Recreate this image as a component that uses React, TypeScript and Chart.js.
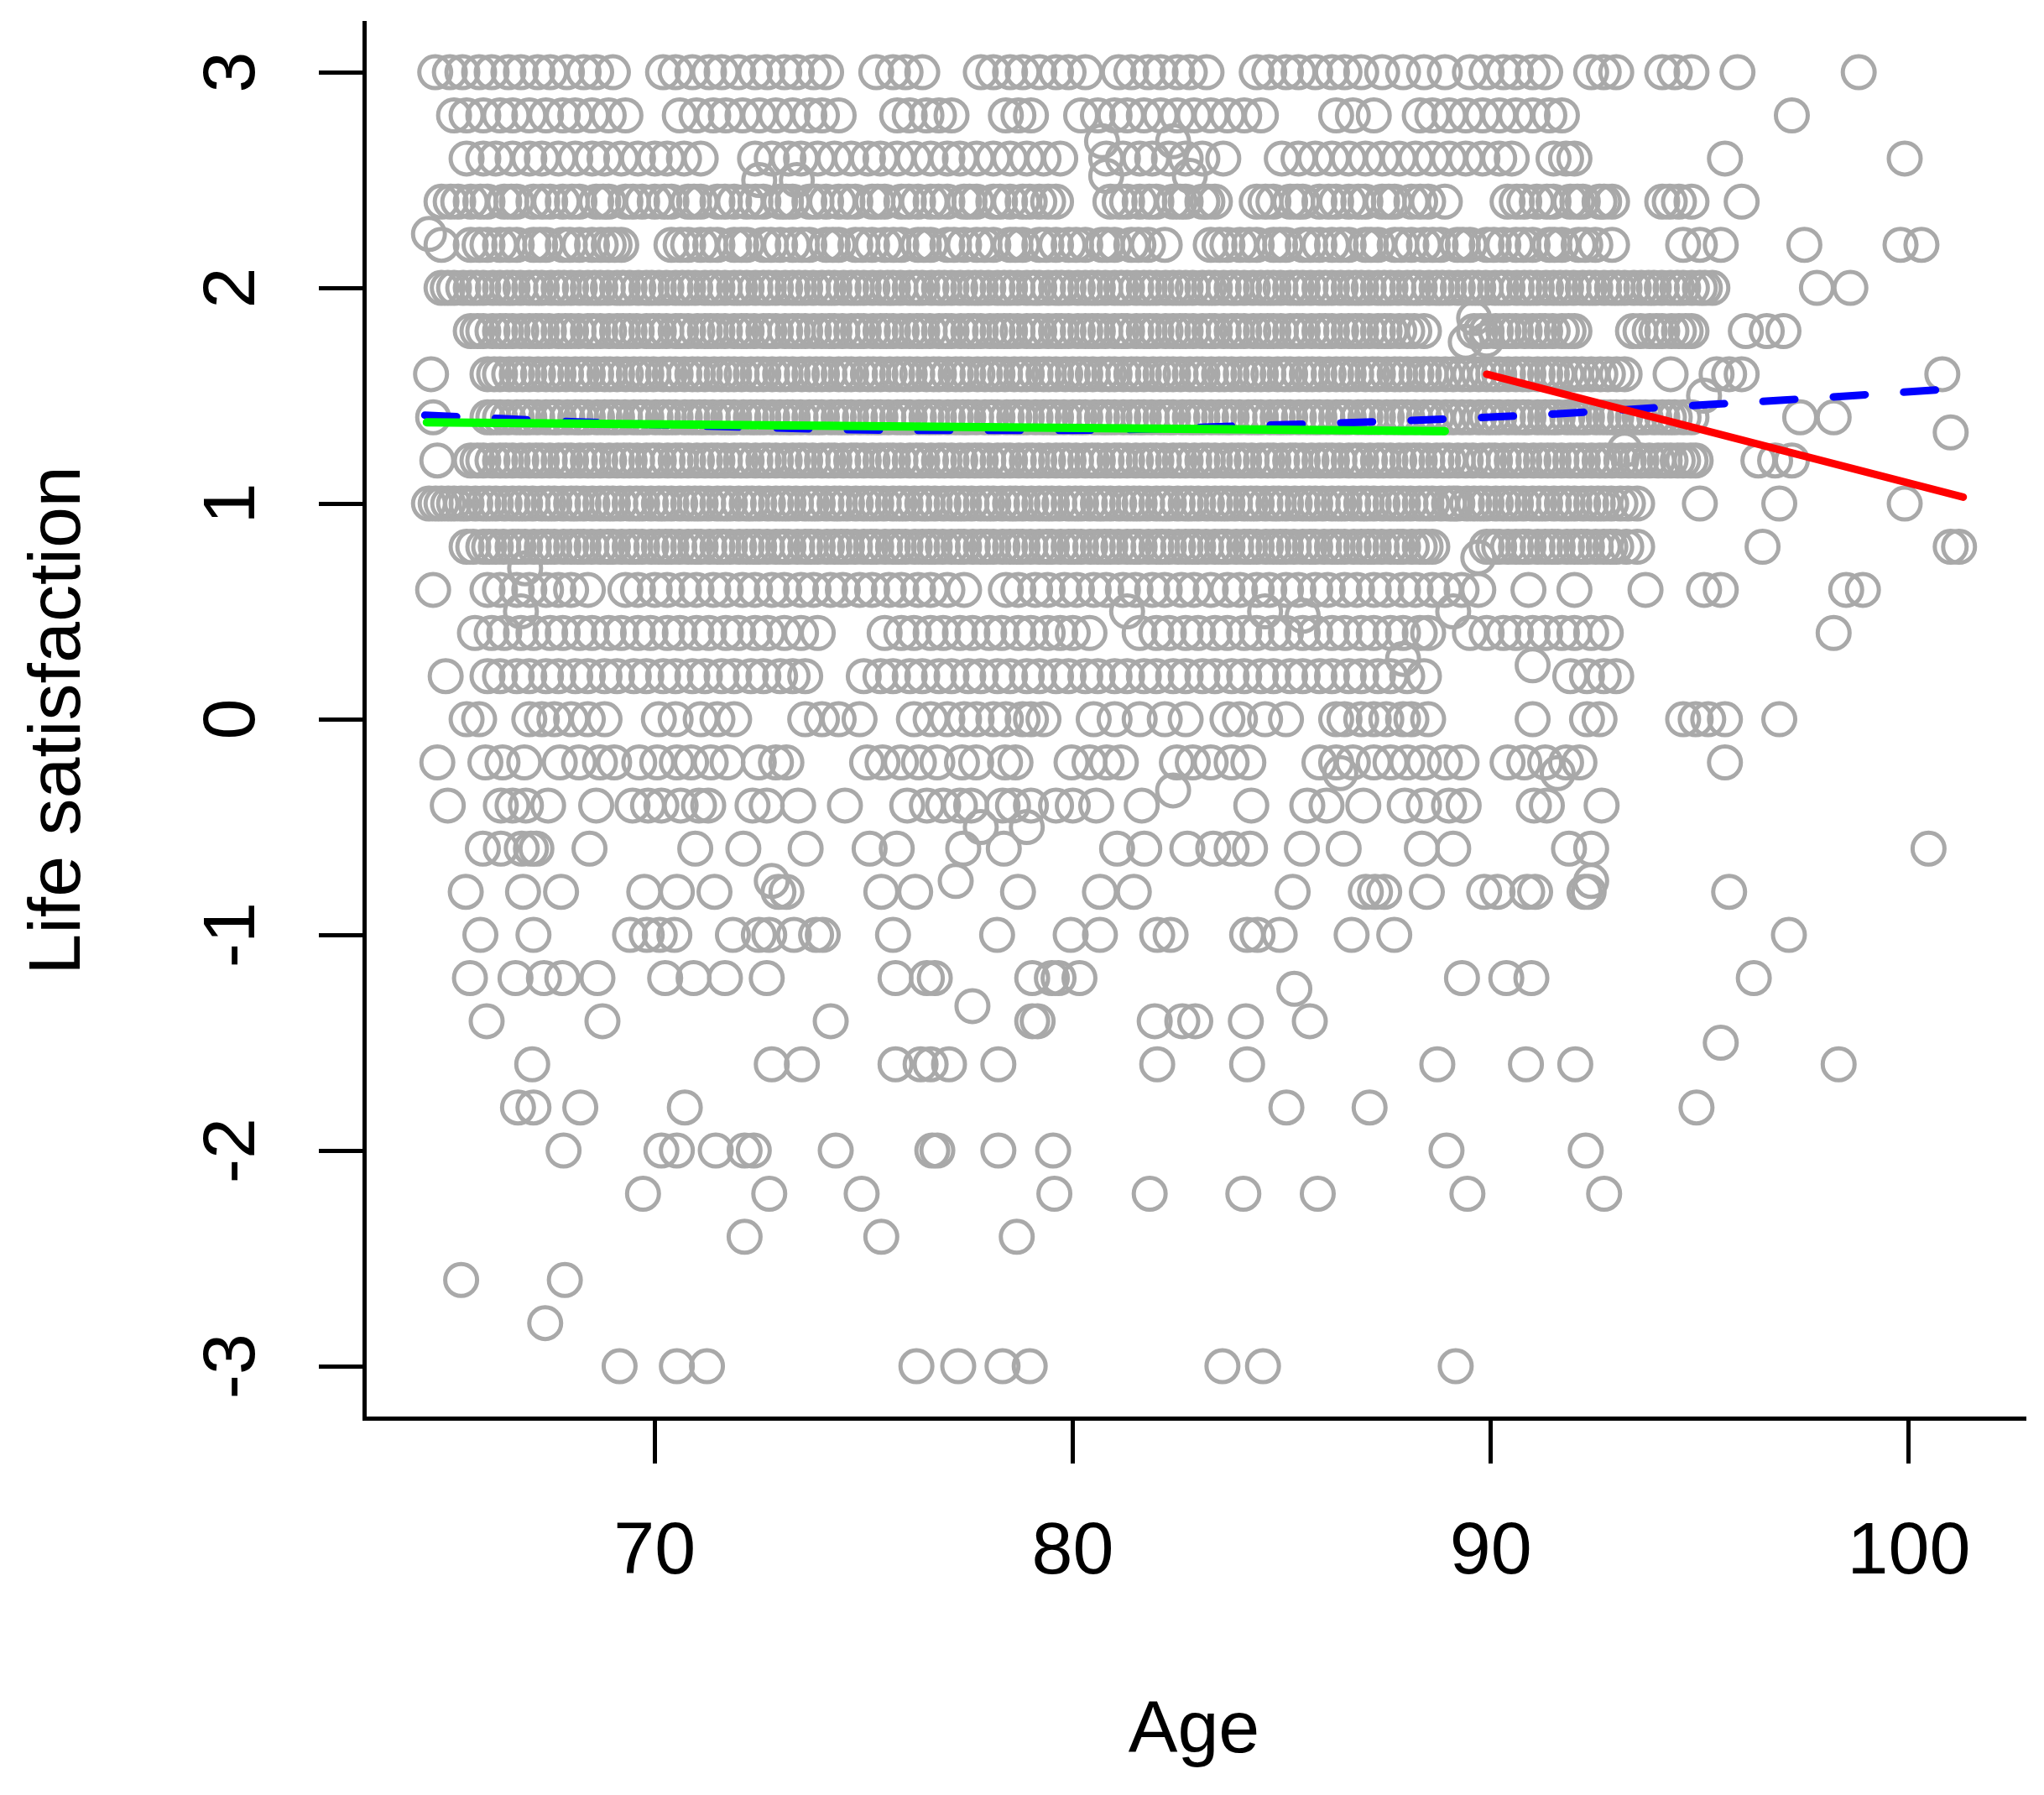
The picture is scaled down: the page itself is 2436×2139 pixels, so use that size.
import React, { useEffect, useRef } from "react";
import { Chart, registerables } from "chart.js";

Chart.register(...registerables);

// tick positions
const ageTicks = [70, 80, 90, 100];
const satisfactionTicks = [-3, -2, -1, 0, 1, 2, 3];

// ages observed at each life-satisfaction level
const lvl3_0 = [64.75, 65.1, 65.4, 65.8, 66.1, 66.5, 66.8, 67.2, 67.5, 67.9, 68.3, 68.6, 69.0, 70.2, 70.5, 70.9, 71.3, 71.6, 72.0, 72.4, 72.7, 73.1, 73.4, 73.8, 74.1, 75.3, 75.7, 76.0, 76.4, 77.8, 78.1, 78.5, 78.8, 79.2, 79.6, 79.9, 80.3, 81.1, 81.4, 81.8, 82.1, 82.5, 82.8, 83.2, 84.4, 84.7, 85.1, 85.4, 85.8, 86.2, 86.5, 86.9, 87.4, 87.9, 88.4, 88.9, 89.5, 89.9, 90.3, 90.6, 91.0, 91.3, 92.4, 92.7, 93.0, 94.1, 94.4, 94.8, 95.9, 98.8];
const lvl2_8 = [65.2, 65.5, 65.9, 66.3, 66.6, 67.0, 67.4, 67.8, 68.1, 68.5, 68.9, 69.3, 70.6, 71.0, 71.4, 71.7, 72.1, 72.5, 72.9, 73.3, 73.7, 74.0, 74.4, 75.8, 76.1, 76.5, 76.8, 77.1, 78.4, 78.7, 79.0, 80.2, 80.6, 81.0, 81.3, 81.7, 82.1, 82.5, 82.9, 83.3, 83.7, 84.1, 84.5, 86.3, 86.7, 87.2, 88.3, 88.6, 89.0, 89.4, 89.8, 90.2, 90.6, 91.0, 91.4, 91.7, 97.2];
const lvl2_6 = [65.5, 65.9, 66.2, 66.6, 67.0, 67.3, 67.7, 68.1, 68.5, 68.8, 69.2, 69.6, 70.0, 70.3, 70.7, 71.1, 72.4, 72.8, 73.2, 73.5, 73.9, 74.3, 74.7, 75.1, 75.4, 75.8, 76.2, 76.6, 77.0, 77.3, 77.7, 78.1, 78.5, 78.9, 79.3, 79.7, 80.8, 81.2, 81.6, 81.9, 82.3, 82.7, 83.1, 83.6, 85.0, 85.4, 85.8, 86.2, 86.6, 87.0, 87.4, 87.8, 88.2, 88.6, 89.0, 89.4, 89.8, 90.2, 90.5, 91.5, 91.8, 92.0, 95.6, 99.9];
const lvl2_4 = [64.9, 65.3, 65.6, 66.0, 66.4, 66.7, 67.1, 67.5, 67.8, 68.2, 68.6, 68.9, 69.3, 69.7, 70.0, 70.4, 70.8, 71.1, 71.5, 71.9, 72.2, 72.6, 73.0, 73.3, 73.7, 74.1, 74.4, 74.8, 75.2, 75.5, 75.9, 76.3, 76.6, 77.0, 77.4, 77.7, 78.1, 78.5, 78.8, 79.2, 79.6, 80.9, 81.3, 81.6, 82.0, 82.4, 82.7, 83.1, 83.4, 84.4, 84.8, 85.2, 85.5, 85.9, 86.3, 86.6, 87.0, 87.4, 87.7, 88.1, 88.5, 88.9, 90.4, 90.8, 91.1, 91.5, 91.9, 92.2, 92.6, 92.9, 94.1, 94.5, 94.8, 96.0];
const lvl2_4b = [65.12, 65.83, 66.57, 67.31, 68.02, 68.77, 69.48, 70.23, 70.94, 71.68, 72.41, 73.14, 73.87, 74.61, 75.33, 76.08, 76.79, 77.53, 78.26, 78.97, 79.41, 81.12, 81.83, 82.56, 83.22, 84.61, 85.37, 86.12, 86.83, 87.56, 88.31, 90.62, 91.34, 92.07, 92.71, 94.28];
const lvl2_2 = [64.9, 65.6, 66.0, 66.3, 66.7, 67.1, 67.4, 67.8, 68.2, 68.5, 68.9, 69.2, 70.4, 70.8, 71.1, 71.5, 71.9, 72.2, 72.6, 73.0, 73.3, 73.7, 74.1, 74.4, 74.8, 75.2, 75.5, 75.9, 76.3, 76.6, 77.0, 77.4, 77.7, 78.1, 78.5, 78.8, 79.2, 79.6, 79.9, 80.3, 80.7, 81.0, 81.4, 81.8, 82.2, 83.3, 83.7, 84.0, 84.4, 84.8, 85.1, 85.5, 85.9, 86.2, 86.6, 87.0, 87.3, 87.7, 88.1, 88.4, 88.8, 89.2, 89.5, 89.9, 90.3, 90.6, 91.0, 91.4, 91.7, 92.1, 92.5, 92.9, 94.6, 95.0, 95.5, 97.5, 99.8, 100.3];
const lvl2_2b = [65.81, 66.52, 67.26, 67.97, 68.71, 69.04, 70.62, 71.33, 72.07, 72.78, 73.52, 74.26, 74.97, 75.71, 76.44, 77.16, 77.89, 78.63, 79.37, 80.08, 80.82, 81.57, 83.51, 84.22, 84.96, 85.68, 86.41, 87.13, 87.86, 88.61, 89.33, 90.07, 90.78, 91.52, 92.26];
const lvl2_0 = [64.9, 65.2, 65.6, 65.9, 66.3, 66.6, 67.0, 67.3, 67.7, 68.0, 68.4, 68.7, 69.1, 69.4, 69.8, 70.1, 70.5, 70.8, 71.2, 71.5, 71.9, 72.2, 72.6, 72.9, 73.3, 73.6, 74.0, 74.3, 74.7, 75.0, 75.4, 75.7, 76.1, 76.4, 76.8, 77.1, 77.5, 77.8, 78.2, 78.5, 78.9, 79.2, 79.6, 79.9, 80.3, 80.6, 81.0, 81.3, 81.7, 82.0, 82.4, 82.7, 83.1, 83.4, 83.8, 84.1, 84.5, 84.8, 85.2, 85.5, 85.9, 86.2, 86.6, 86.9, 87.3, 87.6, 88.0, 88.3, 88.7, 89.0, 89.4, 89.7, 90.1, 90.4, 90.8, 91.1, 91.5, 91.8, 92.2, 92.5, 92.9, 93.2, 93.6, 93.9, 94.3, 94.6, 95.0, 95.3, 97.8, 98.6];
const lvl2_0b = [65.05, 65.42, 65.74, 66.13, 66.47, 66.79, 67.16, 67.52, 67.83, 68.21, 68.56, 68.88, 69.24, 69.61, 69.93, 70.28, 70.66, 70.97, 71.36, 71.68, 72.04, 72.41, 72.73, 73.12, 73.45, 73.79, 74.16, 74.52, 74.84, 75.21, 75.57, 75.88, 76.26, 76.62, 76.93, 77.31, 77.66, 77.98, 78.36, 78.68, 79.07, 79.41, 79.73, 80.12, 80.46, 80.78, 81.16, 81.52, 81.84, 82.22, 82.55, 82.87, 83.26, 83.61, 83.92, 84.31, 84.66, 84.97, 85.36, 85.69, 86.04, 86.41, 86.76, 87.08, 87.45, 87.79, 88.16, 88.52, 88.84, 89.21, 89.56, 89.88, 90.26, 90.62, 90.94, 91.32, 91.66, 91.98, 92.36, 92.71, 93.04, 93.42, 93.77, 94.09, 94.46, 94.81, 95.12];
const lvl1_8 = [65.6, 65.9, 66.3, 66.6, 67.0, 67.3, 67.7, 68.0, 68.4, 68.7, 69.1, 69.4, 69.8, 70.1, 70.5, 70.8, 71.2, 71.5, 71.9, 72.2, 72.6, 72.9, 73.3, 73.6, 74.0, 74.3, 74.7, 75.0, 75.4, 75.7, 76.1, 76.4, 76.8, 77.1, 77.5, 77.8, 78.2, 78.5, 78.9, 79.2, 79.6, 79.9, 80.3, 80.6, 81.0, 81.3, 81.7, 82.0, 82.4, 82.7, 83.1, 83.4, 83.8, 84.1, 84.5, 84.8, 85.2, 85.5, 85.9, 86.2, 86.6, 86.9, 87.3, 87.6, 88.0, 88.4, 89.6, 89.9, 90.3, 90.6, 91.0, 91.3, 91.7, 92.0, 93.4, 93.8, 94.1, 94.5, 94.8, 96.1, 96.6, 97.0];
const lvl1_8b = [65.76, 66.12, 66.44, 66.81, 67.16, 67.47, 67.86, 68.18, 68.53, 68.91, 69.24, 69.57, 69.96, 70.28, 70.63, 71.02, 71.34, 71.68, 72.07, 72.38, 72.74, 73.12, 73.43, 73.81, 74.17, 74.49, 74.86, 75.22, 75.54, 75.91, 76.27, 76.58, 76.96, 77.32, 77.64, 78.02, 78.36, 78.68, 79.07, 79.41, 79.73, 80.12, 80.46, 80.78, 81.17, 81.52, 81.84, 82.22, 82.56, 82.88, 83.27, 83.61, 83.93, 84.32, 84.66, 84.98, 85.36, 85.71, 86.04, 86.42, 86.76, 87.09, 87.46, 87.81, 88.17, 89.76, 90.12, 90.44, 90.81, 91.17, 91.48, 91.86, 93.58, 93.96, 94.32, 94.66];
const lvl1_6 = [64.65, 66.0, 66.3, 66.7, 67.0, 67.4, 67.7, 68.1, 68.4, 68.8, 69.1, 69.5, 69.8, 70.2, 70.5, 70.9, 71.2, 71.6, 71.9, 72.3, 72.6, 73.0, 73.3, 73.7, 74.0, 74.4, 74.7, 75.1, 75.4, 75.8, 76.1, 76.5, 76.8, 77.2, 77.5, 77.9, 78.2, 78.6, 78.9, 79.3, 79.6, 80.0, 80.3, 80.7, 81.0, 81.4, 81.7, 82.1, 82.4, 82.8, 83.1, 83.5, 83.8, 84.2, 84.5, 84.9, 85.2, 85.6, 85.9, 86.3, 86.6, 87.0, 87.3, 87.7, 88.0, 88.4, 88.7, 89.1, 89.5, 89.9, 90.2, 90.6, 90.9, 91.3, 91.6, 92.0, 92.4, 92.8, 93.2, 94.3, 95.4, 95.7, 96.0, 100.8];
const lvl1_6b = [66.16, 66.52, 66.84, 67.21, 67.56, 67.88, 68.26, 68.6, 68.93, 69.31, 69.66, 69.97, 70.36, 70.71, 71.03, 71.42, 71.76, 72.08, 72.46, 72.81, 73.13, 73.52, 73.86, 74.18, 74.57, 74.91, 75.23, 75.62, 75.96, 76.28, 76.67, 77.01, 77.33, 77.72, 78.06, 78.38, 78.77, 79.11, 79.43, 79.82, 80.16, 80.48, 80.87, 81.21, 81.53, 81.92, 82.26, 82.58, 82.97, 83.31, 83.63, 84.02, 84.36, 84.68, 85.07, 85.41, 85.73, 86.12, 86.46, 86.78, 87.17, 87.51, 87.83, 88.22, 88.56, 88.91, 89.32, 89.71, 90.06, 90.41, 90.76, 91.12, 91.46, 91.81, 92.18, 92.62, 93.01];
const lvl1_4 = [64.7, 66.0, 66.3, 66.7, 67.0, 67.4, 67.7, 68.1, 68.4, 68.8, 69.1, 69.5, 69.8, 70.2, 70.5, 70.9, 71.2, 71.6, 71.9, 72.3, 72.6, 73.0, 73.3, 73.7, 74.0, 74.4, 74.7, 75.1, 75.4, 75.8, 76.1, 76.5, 76.8, 77.2, 77.5, 77.9, 78.2, 78.6, 78.9, 79.3, 79.6, 80.0, 80.3, 80.7, 81.0, 81.4, 81.7, 82.1, 82.4, 82.8, 83.1, 83.5, 83.8, 84.2, 84.5, 84.9, 85.2, 85.6, 85.9, 86.3, 86.6, 87.0, 87.3, 87.7, 88.0, 88.4, 88.7, 89.1, 89.5, 89.9, 90.2, 90.6, 90.9, 91.3, 91.6, 92.0, 92.3, 92.7, 93.0, 93.4, 93.7, 94.1, 94.4, 94.8, 97.4, 98.2];
const lvl1_4b = [66.14, 66.49, 66.86, 67.19, 67.57, 67.91, 68.24, 68.62, 68.97, 69.29, 69.66, 70.02, 70.34, 70.72, 71.07, 71.39, 71.76, 72.12, 72.44, 72.81, 73.17, 73.49, 73.86, 74.22, 74.54, 74.91, 75.27, 75.59, 75.96, 76.32, 76.64, 77.01, 77.37, 77.69, 78.06, 78.42, 78.74, 79.11, 79.47, 79.79, 80.16, 80.52, 80.84, 81.21, 81.57, 81.89, 82.26, 82.62, 82.94, 83.31, 83.67, 83.99, 84.36, 84.72, 85.04, 85.41, 85.77, 86.09, 86.46, 86.82, 87.14, 87.51, 87.87, 88.19, 88.56, 88.92, 89.31, 89.72, 90.04, 90.41, 90.77, 91.12, 91.46, 91.83, 92.16, 92.52, 92.86, 93.21, 93.56, 93.91, 94.26, 94.61];
const lvl1_2 = [64.8, 65.6, 65.9, 66.3, 66.6, 67.0, 67.3, 67.7, 68.0, 68.4, 68.7, 69.1, 69.4, 69.8, 70.1, 70.5, 70.8, 71.2, 71.5, 71.9, 72.2, 72.6, 72.9, 73.3, 73.6, 74.0, 74.3, 74.7, 75.0, 75.4, 75.7, 76.1, 76.4, 76.8, 77.1, 77.5, 77.8, 78.2, 78.5, 78.9, 79.2, 79.6, 79.9, 80.3, 80.6, 81.0, 81.3, 81.7, 82.0, 82.4, 82.7, 83.1, 83.4, 83.8, 84.1, 84.5, 84.8, 85.2, 85.5, 85.9, 86.2, 86.6, 86.9, 87.3, 87.6, 88.0, 88.3, 88.7, 89.0, 89.4, 89.8, 90.1, 90.5, 90.8, 91.2, 91.5, 91.9, 92.2, 92.6, 92.9, 93.3, 93.6, 94.0, 94.3, 94.6, 94.9, 96.4, 96.8, 97.2];
const lvl1_2b = [65.76, 66.12, 66.44, 66.81, 67.16, 67.49, 67.86, 68.21, 68.53, 68.91, 69.26, 69.58, 69.96, 70.31, 70.63, 71.01, 71.36, 71.68, 72.06, 72.41, 72.73, 73.11, 73.46, 73.78, 74.16, 74.51, 74.83, 75.21, 75.56, 75.88, 76.26, 76.61, 76.93, 77.31, 77.66, 77.98, 78.36, 78.71, 79.03, 79.41, 79.76, 80.08, 80.46, 80.81, 81.13, 81.51, 81.86, 82.18, 82.56, 82.91, 83.23, 83.61, 83.96, 84.28, 84.66, 85.01, 85.33, 85.71, 86.06, 86.38, 86.76, 87.11, 87.43, 87.81, 88.16, 88.48, 88.86, 89.21, 89.57, 89.96, 90.31, 90.64, 91.02, 91.36, 91.69, 92.06, 92.41, 92.74, 93.12, 93.46, 93.79, 94.16, 94.47, 94.78];
const lvl1_0 = [64.6, 64.9, 65.2, 65.5, 65.9, 66.2, 66.6, 66.9, 67.3, 67.6, 68.0, 68.3, 68.7, 69.0, 69.4, 69.7, 70.1, 70.4, 70.8, 71.1, 71.5, 71.8, 72.2, 72.5, 72.9, 73.2, 73.6, 73.9, 74.3, 74.6, 75.0, 75.3, 75.7, 76.0, 76.4, 76.7, 77.1, 77.4, 77.8, 78.1, 78.5, 78.8, 79.2, 79.5, 79.9, 80.2, 80.6, 80.9, 81.3, 81.6, 82.0, 82.3, 82.7, 83.0, 83.4, 83.7, 84.1, 84.4, 84.8, 85.1, 85.5, 85.8, 86.2, 86.5, 86.9, 87.2, 87.6, 87.9, 88.3, 88.6, 89.0, 89.2, 89.6, 89.9, 90.3, 90.6, 91.0, 91.3, 91.7, 92.0, 92.4, 92.7, 93.1, 93.5, 95.0, 96.9, 99.9];
const lvl1_0b = [64.76, 65.06, 65.37, 65.71, 66.04, 66.41, 66.76, 67.08, 67.46, 67.81, 68.13, 68.51, 68.86, 69.18, 69.56, 69.91, 70.23, 70.61, 70.96, 71.28, 71.66, 72.01, 72.33, 72.71, 73.06, 73.38, 73.76, 74.11, 74.43, 74.81, 75.16, 75.48, 75.86, 76.21, 76.53, 76.91, 77.26, 77.58, 77.96, 78.31, 78.63, 79.01, 79.36, 79.68, 80.06, 80.41, 80.73, 81.11, 81.46, 81.78, 82.16, 82.51, 82.83, 83.21, 83.56, 83.88, 84.26, 84.61, 84.93, 85.31, 85.66, 85.98, 86.36, 86.71, 87.03, 87.41, 87.76, 88.08, 88.46, 88.81, 89.11, 89.43, 89.76, 90.12, 90.46, 90.78, 91.16, 91.51, 91.84, 92.21, 92.56, 92.88, 93.28];
const lvl0_8 = [65.5, 65.9, 66.2, 66.6, 66.9, 67.3, 67.6, 68.0, 68.3, 68.7, 69.0, 69.4, 69.7, 70.1, 70.4, 70.8, 71.1, 71.5, 71.8, 72.2, 72.5, 72.9, 73.2, 73.6, 73.9, 74.3, 74.6, 75.0, 75.3, 75.7, 76.0, 76.4, 76.7, 77.1, 77.4, 77.8, 78.1, 78.5, 78.8, 79.2, 79.5, 79.9, 80.2, 80.6, 80.9, 81.3, 81.6, 82.0, 82.3, 82.7, 83.0, 83.4, 83.7, 84.1, 84.4, 84.8, 85.1, 85.5, 85.8, 86.2, 86.5, 86.9, 87.2, 87.6, 87.9, 88.3, 88.6, 89.9, 90.2, 90.6, 90.9, 91.3, 91.6, 92.0, 92.3, 92.7, 93.0, 93.5, 96.5, 101.0, 101.2];
const lvl0_8b = [65.66, 66.04, 66.38, 66.74, 67.11, 67.44, 67.82, 68.16, 68.49, 68.87, 69.21, 69.54, 69.92, 70.26, 70.59, 70.97, 71.31, 71.64, 72.02, 72.36, 72.69, 73.07, 73.41, 73.74, 74.12, 74.46, 74.79, 75.17, 75.51, 75.84, 76.22, 76.56, 76.89, 77.27, 77.61, 77.94, 78.32, 78.66, 78.99, 79.37, 79.71, 80.04, 80.42, 80.76, 81.09, 81.47, 81.81, 82.14, 82.52, 82.86, 83.19, 83.57, 83.91, 84.24, 84.62, 84.96, 85.29, 85.67, 86.01, 86.34, 86.72, 87.06, 87.39, 87.77, 88.11, 88.44, 90.06, 90.41, 90.77, 91.12, 91.46, 91.82, 92.16, 92.51, 92.86, 93.24];
const lvl0_6 = [64.7, 66.0, 66.3, 66.7, 67.0, 67.4, 67.7, 68.0, 68.4, 69.3, 69.6, 70.0, 70.3, 70.7, 71.0, 71.4, 71.7, 72.1, 72.4, 72.8, 73.1, 73.5, 73.8, 74.2, 74.5, 74.9, 75.2, 75.6, 75.9, 76.3, 76.6, 77.0, 77.4, 78.4, 78.7, 79.1, 79.4, 79.8, 80.1, 80.5, 80.8, 81.2, 81.5, 81.9, 82.2, 82.6, 82.9, 83.3, 83.7, 84.0, 84.4, 84.7, 85.1, 85.4, 85.8, 86.1, 86.5, 86.8, 87.2, 87.5, 87.9, 88.2, 88.6, 88.9, 89.3, 89.7, 90.9, 92.0, 93.7, 95.1, 95.5, 98.5, 98.9];
const lvl0_4 = [65.7, 66.1, 66.4, 66.8, 67.1, 67.5, 67.8, 68.2, 68.5, 68.9, 69.2, 69.6, 69.9, 70.3, 70.6, 71.0, 71.3, 71.7, 72.0, 72.4, 72.7, 73.1, 73.5, 73.9, 75.5, 75.9, 76.2, 76.6, 76.9, 77.3, 77.6, 78.0, 78.3, 78.7, 79.0, 79.4, 79.7, 80.0, 80.4, 81.6, 82.0, 82.3, 82.7, 83.0, 83.4, 83.7, 84.1, 84.4, 84.8, 85.1, 85.5, 85.8, 86.2, 86.5, 86.9, 87.2, 87.6, 87.9, 88.3, 88.5, 89.5, 89.9, 90.3, 90.6, 91.0, 91.3, 91.7, 92.0, 92.4, 92.75, 98.2];
const lvl0_2 = [65.0, 66.0, 66.3, 66.7, 67.0, 67.4, 67.7, 68.1, 68.4, 68.8, 69.1, 69.5, 69.8, 70.2, 70.5, 70.9, 71.2, 71.6, 71.9, 72.3, 72.6, 73.0, 73.3, 73.6, 75.0, 75.4, 75.7, 76.1, 76.4, 76.8, 77.1, 77.5, 77.8, 78.2, 78.5, 78.9, 79.2, 79.6, 79.9, 80.3, 80.6, 81.0, 81.3, 81.7, 82.0, 82.4, 82.7, 83.1, 83.4, 83.8, 84.1, 84.5, 84.8, 85.2, 85.5, 85.9, 86.2, 86.6, 86.9, 87.3, 87.6, 88.0, 88.4, 91.9, 92.3, 92.7, 93.0];
const lvl0_0 = [65.5, 65.8, 67.0, 67.3, 67.6, 68.0, 68.4, 68.8, 70.1, 70.5, 71.1, 71.5, 71.9, 73.6, 74.0, 74.4, 74.9, 76.2, 76.6, 77.0, 77.4, 77.7, 78.1, 78.4, 78.8, 79.0, 79.3, 80.5, 81.0, 81.6, 82.2, 82.7, 83.7, 84.0, 84.6, 85.1, 86.3, 86.5, 86.9, 87.2, 87.5, 87.9, 88.1, 88.5, 91.0, 92.3, 92.6, 94.6, 94.9, 95.2, 95.6, 96.9];
const lvlM0_2 = [64.8, 65.95, 66.36, 66.88, 67.73, 68.19, 68.69, 69.03, 69.63, 70.06, 70.53, 70.87, 71.34, 71.74, 72.49, 72.9, 73.15, 75.08, 75.45, 75.89, 76.32, 76.76, 77.35, 77.69, 78.38, 78.63, 79.97, 80.4, 80.81, 81.15, 82.49, 82.87, 83.3, 83.8, 84.2, 85.9, 86.3, 86.7, 87.2, 87.6, 88.0, 88.4, 88.9, 89.3, 90.4, 90.8, 91.3, 91.8, 92.12, 95.6];
const lvlM0_4 = [65.05, 66.32, 66.6, 66.92, 67.45, 68.6, 69.47, 69.84, 70.16, 70.62, 71.06, 71.28, 72.34, 72.68, 73.43, 74.55, 76.04, 76.51, 76.9, 77.3, 77.57, 78.32, 78.57, 79.0, 79.6, 80.0, 80.56, 81.65, 84.27, 85.61, 86.07, 86.95, 87.94, 88.4, 89.0, 89.35, 91.03, 91.34, 92.65];
const lvlM0_6 = [65.89, 66.32, 66.82, 67.04, 67.17, 68.44, 70.97, 72.12, 73.61, 75.14, 75.79, 77.38, 78.35, 81.06, 81.71, 82.74, 83.36, 83.8, 84.24, 85.48, 86.48, 88.35, 89.1, 91.87, 92.4, 100.47];
const lvlM0_8 = [65.48, 66.85, 67.76, 69.75, 70.53, 71.43, 72.96, 73.15, 75.42, 76.23, 78.69, 80.65, 81.46, 85.26, 87.01, 87.23, 87.45, 88.47, 89.84, 90.16, 90.87, 91.06, 92.24, 92.34, 95.7];
const lvlM1_0 = [65.83, 67.1, 69.41, 69.81, 70.12, 70.47, 71.87, 72.49, 72.74, 73.33, 73.86, 74.02, 75.7, 78.19, 79.95, 80.65, 82.02, 82.34, 84.17, 84.42, 84.95, 86.67, 87.69, 97.13];
const lvlM1_2 = [65.58, 66.67, 67.35, 67.79, 68.63, 70.25, 70.93, 71.68, 72.68, 75.76, 76.51, 76.7, 79.03, 79.5, 79.66, 80.16, 89.31, 90.37, 90.97, 96.29];
const lvlM1_4 = [65.98, 68.75, 74.21, 79.03, 79.16, 81.96, 82.62, 82.93, 84.14, 85.67];
const lvlM1_6 = [67.07, 72.8, 73.52, 75.76, 76.36, 76.6, 77.04, 78.22, 82.02, 84.17, 88.72, 90.84, 92.02, 98.32];
const lvlM1_8 = [66.73, 67.1, 68.22, 70.72, 85.11, 87.1, 94.92];
const lvlM2_0 = [67.82, 70.16, 70.53, 71.46, 72.15, 72.37, 74.33, 76.64, 76.76, 78.22, 79.53, 88.94, 92.27];
const lvlM2_2 = [69.72, 72.74, 74.95, 79.56, 81.84, 84.08, 85.86, 89.44, 92.71];
const lvlM2_4 = [72.15, 75.42, 78.66];
const lvlM2_6 = [65.37, 67.85];
const lvlM2_8 = [67.38];
const lvlM3_0 = [69.16, 70.53, 71.25, 76.26, 77.26, 78.32, 78.97, 83.58, 84.55, 89.16];

const levelRows: [number, number[]][] = [
  [3.0, lvl3_0], [2.8, lvl2_8], [2.6, lvl2_6], [2.4, lvl2_4], [2.4, lvl2_4b],
  [2.2, lvl2_2], [2.2, lvl2_2b], [2.0, lvl2_0], [2.0, lvl2_0b], [1.8, lvl1_8],
  [1.8, lvl1_8b], [1.6, lvl1_6], [1.6, lvl1_6b], [1.4, lvl1_4], [1.4, lvl1_4b],
  [1.2, lvl1_2], [1.2, lvl1_2b], [1.0, lvl1_0], [1.0, lvl1_0b], [0.8, lvl0_8],
  [0.8, lvl0_8b], [0.6, lvl0_6], [0.4, lvl0_4], [0.2, lvl0_2], [0.0, lvl0_0],
  [-0.2, lvlM0_2], [-0.4, lvlM0_4], [-0.6, lvlM0_6], [-0.8, lvlM0_8], [-1.0, lvlM1_0],
  [-1.2, lvlM1_2], [-1.4, lvlM1_4], [-1.6, lvlM1_6], [-1.8, lvlM1_8], [-2.0, lvlM2_0],
  [-2.2, lvlM2_2], [-2.4, lvlM2_4], [-2.6, lvlM2_6], [-2.8, lvlM2_8], [-3.0, lvlM3_0],
];

// respondents with in-between scores: [age, satisfaction]
const offGridPoints: [number, number][] = [
  [72.5, 2.5], [73.4, 2.5], [80.7, 2.68], [82.4, 2.68], [80.8, 2.52], [82.8, 2.52],
  [64.6, 2.25], [89.6, 1.86], [89.4, 1.75], [89.9, 1.76], [95.1, 1.5], [101.0, 1.33],
  [93.2, 1.25], [66.9, 0.7], [66.8, 0.5], [87.9, 0.28], [81.3, 0.5], [84.6, 0.5],
  [85.5, 0.48], [89.1, 0.5], [89.7, 0.75], [91.0, 0.25], [91.6, -0.25], [86.4, -0.25],
  [82.4, -0.33], [77.6, -1.33], [85.3, -1.25], [95.5, -1.5], [77.8, -0.5], [78.9, -0.5],
  [72.8, -0.75], [77.2, -0.75], [92.4, -0.75],
];

// fitted lines
const greenAges = [64.55, 88.9];
const greenFit = [1.377, 1.336];
const redAges = [89.9, 101.3];
const redFit = [1.6, 1.03];
const blueAges = [64.5, 68, 72, 76, 80, 84, 88, 91, 94, 97, 101.3];
const blueFit = [1.41, 1.38, 1.355, 1.34, 1.34, 1.36, 1.385, 1.41, 1.445, 1.48, 1.535];

const FONT = { family: "'Liberation Sans', Arial, Helvetica, sans-serif", size: 88 };

const pairs = (xs: number[], ys: number[]) => xs.map((x, i) => ({ x, y: ys[i] }));

export default function App() {
  const canvasRef = useRef<HTMLCanvasElement | null>(null);

  useEffect(() => {
    if (!canvasRef.current) return;

    const points = [
      ...levelRows.flatMap(([lvl, ages]) => ages.map((a) => ({ x: a, y: lvl }))),
      ...offGridPoints.map(([a, s]) => ({ x: a, y: s })),
    ];

    const chart = new Chart(canvasRef.current, {
      type: "scatter",
      data: {
        datasets: [
          {
            label: "green",
            data: pairs(greenAges, greenFit),
            showLine: true,
            borderColor: "#00FF00",
            borderWidth: 10,
            borderCapStyle: "round",
            pointRadius: 0,
            order: 1,
          },
          {
            label: "red",
            data: pairs(redAges, redFit),
            showLine: true,
            borderColor: "#FF0000",
            borderWidth: 9,
            borderCapStyle: "round",
            pointRadius: 0,
            order: 2,
          },
          {
            label: "blue",
            data: pairs(blueAges, blueFit),
            showLine: true,
            borderColor: "#0000FF",
            borderWidth: 9,
            borderCapStyle: "round",
            borderDash: [38, 46],
            cubicInterpolationMode: "monotone",
            pointRadius: 0,
            order: 3,
          },
          {
            label: "respondents",
            data: points,
            pointStyle: "circle",
            pointRadius: 19,
            pointBorderWidth: 5,
            pointBorderColor: "#A9A9A9",
            pointBackgroundColor: "rgba(0,0,0,0)",
            order: 4,
          },
        ],
      },
      options: {
        animation: false,
        responsive: true,
        maintainAspectRatio: false,
        devicePixelRatio: 1,
        events: [],
        layout: { padding: { top: 27, right: 12, bottom: 0, left: 0 } },
        plugins: { legend: { display: false }, tooltip: { enabled: false } },
        scales: {
          x: {
            type: "linear",
            min: 63.05,
            max: 102.75,
            afterBuildTicks: (s: any) => {
              s.ticks = ageTicks.map((v) => ({ value: v }));
            },
            afterFit: (s: any) => {
              s.height = 449;
              s.paddingLeft = 0;
              s.paddingRight = 0;
            },
            grid: { drawOnChartArea: false, drawTicks: true, tickLength: 54, color: "#000", lineWidth: 5 },
            border: { display: true, color: "#000", width: 5 },
            ticks: { color: "#000", font: FONT, padding: 54, maxRotation: 0, autoSkip: false },
            title: { display: true, text: "Age", color: "#000", font: FONT, padding: { top: 0, bottom: 22 } },
          },
          y: {
            type: "linear",
            min: -3.241,
            max: 3.23,
            afterBuildTicks: (s: any) => {
              s.ticks = satisfactionTicks.map((v) => ({ value: v }));
            },
            afterFit: (s: any) => {
              s.width = 434;
              s.paddingTop = 0;
              s.paddingBottom = 0;
            },
            grid: { drawOnChartArea: false, drawTicks: true, tickLength: 54, color: "#000", lineWidth: 5 },
            border: { display: true, color: "#000", width: 5 },
            ticks: {
              color: "#000",
              font: FONT,
              padding: 62,
              minRotation: 90,
              maxRotation: 90,
              crossAlign: "center",
              autoSkip: false,
            },
            title: {
              display: true,
              text: "Life satisfaction",
              color: "#000",
              font: FONT,
              padding: { top: 18, bottom: 0 },
            },
          },
        },
      },
    });
    return () => chart.destroy();
  }, []);

  return (
    <div style={{ position: "absolute", left: 0, top: 0, width: 2436, height: 2139, background: "#fff" }}>
      <canvas ref={canvasRef} />
    </div>
  );
}
